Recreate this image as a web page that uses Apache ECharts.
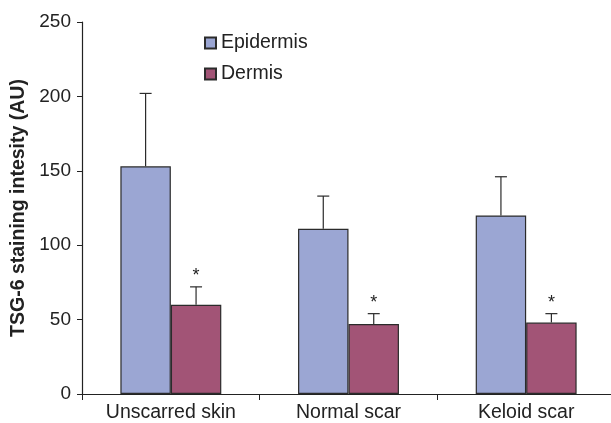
<!DOCTYPE html>
<html>
<head>
<meta charset="utf-8">
<script src="https://cdn.jsdelivr.net/npm/echarts@6/dist/echarts.min.js"></script>
<style>
  html, body { margin: 0; padding: 0; background: #fff; }
  #chart { width: 611px; height: 423px; }
</style>
</head>
<body>
<div id="chart"></div>
<script>
// Group labels along the x axis
const categories = ['Unscarred skin', 'Normal scar', 'Keloid scar'];
// Mean staining intensity per group (AU)
const epidermisMean = [153, 111, 120];
const dermisMean = [60, 47, 48];
// Upper end of each error bar (mean + error)
const epidermisUpper = [202, 133, 146];
const dermisUpper = [72, 54, 54];
// Significance markers drawn above the dermis error bars
const dermisMarks = ['*', '*', '*'];
// Value axis ticks
const yTicks = [0, 50, 100, 150, 200, 250];

const FONT = '"Liberation Sans", Arial, Helvetica, sans-serif';
const EDGE = '#2b2b2b';
const BAR_FRACTION = 0.284;

function errorBarSeries(name, means, uppers, side, marks) {
  return {
    type: 'custom',
    name: name + ' error',
    silent: true,
    z: 3,
    data: means.map((m, i) => [i, m, uppers[i], marks ? marks[i] : '']),
    renderItem: function (params, api) {
      const idx = api.value(0);
      const band = api.size([1, 0])[0];
      const barW = band * BAR_FRACTION;
      const base = api.coord([idx, api.value(1)]);
      const top = api.coord([idx, api.value(2)]);
      const x = base[0] + side * barW / 2;
      const cap = 6;
      const children = [
        { type: 'line', shape: { x1: x, y1: base[1], x2: x, y2: top[1] },
          style: { stroke: EDGE, lineWidth: 1.2 } },
        { type: 'line', shape: { x1: x - cap, y1: top[1], x2: x + cap, y2: top[1] },
          style: { stroke: EDGE, lineWidth: 1.2 } }
      ];
      const mark = api.value(3);
      if (mark) {
        children.push({
          type: 'text',
          style: { x: x, y: top[1] - 11, text: mark, align: 'center', verticalAlign: 'middle',
                   font: '18px ' + FONT, fill: '#222' }
        });
      }
      return { type: 'group', children: children };
    }
  };
}

const chart = echarts.init(document.getElementById('chart'));
chart.setOption({
  animation: false,
  backgroundColor: '#ffffff',
  textStyle: { fontFamily: FONT },
  grid: { left: 82, top: 22, bottom: 29, width: 533, outerBoundsMode: 'none', containLabel: false },
  legend: {
    orient: 'vertical',
    left: 199,
    top: 28,
    itemWidth: 11,
    itemHeight: 11,
    itemGap: 11,
    icon: 'rect',
    data: ['Epidermis', 'Dermis'],
    textStyle: { fontSize: 19.5, color: '#222', fontFamily: FONT }
  },
  xAxis: {
    type: 'category',
    data: categories,
    axisLine: { lineStyle: { color: '#222', width: 1.2 } },
    axisTick: { show: true, length: 6, alignWithLabel: false, lineStyle: { color: '#222' } },
    axisLabel: { fontSize: 19.5, color: '#222', margin: 9, fontFamily: FONT }
  },
  yAxis: {
    type: 'value',
    min: yTicks[0],
    max: yTicks[yTicks.length - 1],
    interval: yTicks[1] - yTicks[0],
    splitLine: { show: false },
    axisLine: { show: true, lineStyle: { color: '#222', width: 1.2 } },
    axisTick: { show: true, length: 5, lineStyle: { color: '#222' } },
    axisLabel: { fontSize: 19, color: '#222', margin: 11, fontFamily: FONT },
    name: 'TSG-6 staining intesity (AU)',
    nameLocation: 'middle',
    nameGap: 38,
    nameTextStyle: { fontSize: 19.5, fontWeight: 'bold', color: '#222', fontFamily: FONT }
  },
  series: [
    {
      name: 'Epidermis',
      type: 'bar',
      data: epidermisMean,
      barWidth: (BAR_FRACTION * 100) + '%',
      barGap: '0%',
      itemStyle: { color: '#9ba6d3', borderColor: EDGE, borderWidth: 1.2 }
    },
    {
      name: 'Dermis',
      type: 'bar',
      data: dermisMean,
      barWidth: (BAR_FRACTION * 100) + '%',
      barGap: '0%',
      itemStyle: { color: '#a25476', borderColor: EDGE, borderWidth: 1.2 }
    },
    errorBarSeries('Epidermis', epidermisMean, epidermisUpper, -1, null),
    errorBarSeries('Dermis', dermisMean, dermisUpper, 1, dermisMarks)
  ]
});
</script>
</body>
</html>
